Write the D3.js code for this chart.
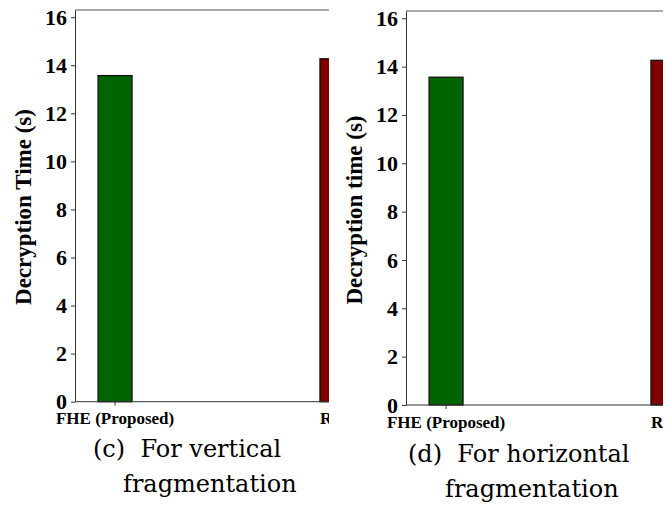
<!DOCTYPE html>
<html>
<head>
<meta charset="utf-8">
<script src="https://cdn.jsdelivr.net/npm/d3@7/dist/d3.min.js"></script>
<style>
  html, body { margin: 0; padding: 0; background: #fff; }
  svg { display: block; }
</style>
</head>
<body>
<svg id="chart" width="672" height="505"></svg>
<script>
// ---- data ----
const categories = ["FHE (Proposed)", "RSA"];
const verticalValues = [13.57, 14.27];
const horizontalValues = [13.56, 14.26];
const barColors = ["#006400", "#800000"];
const yTicks = [0, 2, 4, 6, 8, 10, 12, 14, 16];
const yTitles = ["Decryption Time (s)", "Decryption time (s)"];
const captionLine1 = ["(c)  For vertical", "(d)  For horizontal"];
const captionLine2 = ["fragmentation", "fragmentation"];

const svg = d3.select("#chart");

const panels = [
  { values: verticalValues, clipX0: 0, clipX1: 329, axisX: 75, top: 10, bottom: 401.7,
    titleX: 31, titleY: 207, xlabBase: 424, cap1: [93, 457], cap2: [123, 492] },
  { values: horizontalValues, clipX0: 330, clipX1: 663, axisX: 406, top: 11, bottom: 405,
    titleX: 362, titleY: 210, xlabBase: 428, cap1: [408, 462], cap2: [445, 497] }
];

panels.forEach((p, i) => {
  const clipId = "clip" + i;
  svg.append("clipPath").attr("id", clipId)
    .append("rect").attr("x", p.clipX0).attr("y", 0)
    .attr("width", p.clipX1 - p.clipX0).attr("height", 505);

  const g = svg.append("g").attr("clip-path", `url(#${clipId})`);

  const y = d3.scaleLinear().domain([0, 16.3]).range([p.bottom, p.top]);
  const x = d3.scaleBand().domain(categories)
    .range([p.axisX, p.axisX + 302])
    .paddingInner(0.847).paddingOuter(0.104);

  // top frame line
  g.append("line")
    .attr("x1", p.axisX).attr("x2", p.axisX + 600)
    .attr("y1", y(16.3)).attr("y2", y(16.3))
    .attr("stroke", "#555").attr("stroke-width", 1);

  // bars
  g.selectAll("rect.bar").data(p.values).join("rect")
    .attr("class", "bar")
    .attr("x", (d, j) => x(categories[j]))
    .attr("width", x.bandwidth())
    .attr("y", d => y(d))
    .attr("height", d => y(0) - y(d))
    .attr("fill", (d, j) => barColors[j])
    .attr("stroke", "#111").attr("stroke-width", 1.3);

  // y axis
  const yAxis = g.append("g")
    .attr("transform", `translate(${p.axisX},0)`)
    .call(d3.axisLeft(y).tickValues(yTicks).tickSize(4).tickPadding(4).tickSizeOuter(0));
  yAxis.select(".domain").attr("stroke", "#333");
  yAxis.selectAll(".tick line").attr("stroke", "#333");
  yAxis.selectAll(".tick text")
    .attr("font-family", "'Liberation Serif', 'Times New Roman', serif")
    .attr("font-weight", "bold").attr("font-size", 22).attr("fill", "#000");

  // x axis
  const xAxis = g.append("g")
    .attr("transform", `translate(0,${y(0)})`)
    .call(d3.axisBottom(x).tickSize(4).tickPadding(3).tickSizeOuter(0));
  xAxis.select(".domain").attr("stroke", "#333").attr("d", `M${p.axisX},0H${p.axisX + 600}`);
  xAxis.selectAll(".tick line").attr("stroke", "#333");
  xAxis.selectAll(".tick text")
    .attr("font-family", "'Liberation Serif', 'Times New Roman', serif")
    .attr("font-weight", "bold").attr("font-size", 17).attr("fill", "#000")
    .attr("dy", null).attr("y", p.xlabBase - y(0));

  // y title
  g.append("text")
    .attr("transform", `translate(${p.titleX},${p.titleY}) rotate(-90)`)
    .attr("text-anchor", "middle")
    .attr("font-family", "'Liberation Serif', 'Times New Roman', serif")
    .attr("font-weight", "bold").attr("font-size", 23)
    .text(yTitles[i]);

  // captions
  svg.append("text")
    .attr("x", p.cap1[0]).attr("y", p.cap1[1])
    .attr("font-family", "'DejaVu Serif', serif").attr("font-size", 24)
    .style("white-space", "pre")
    .text(captionLine1[i]);
  svg.append("text")
    .attr("x", p.cap2[0]).attr("y", p.cap2[1])
    .attr("font-family", "'DejaVu Serif', serif").attr("font-size", 24)
    .text(captionLine2[i]);
});
</script>
</body>
</html>
